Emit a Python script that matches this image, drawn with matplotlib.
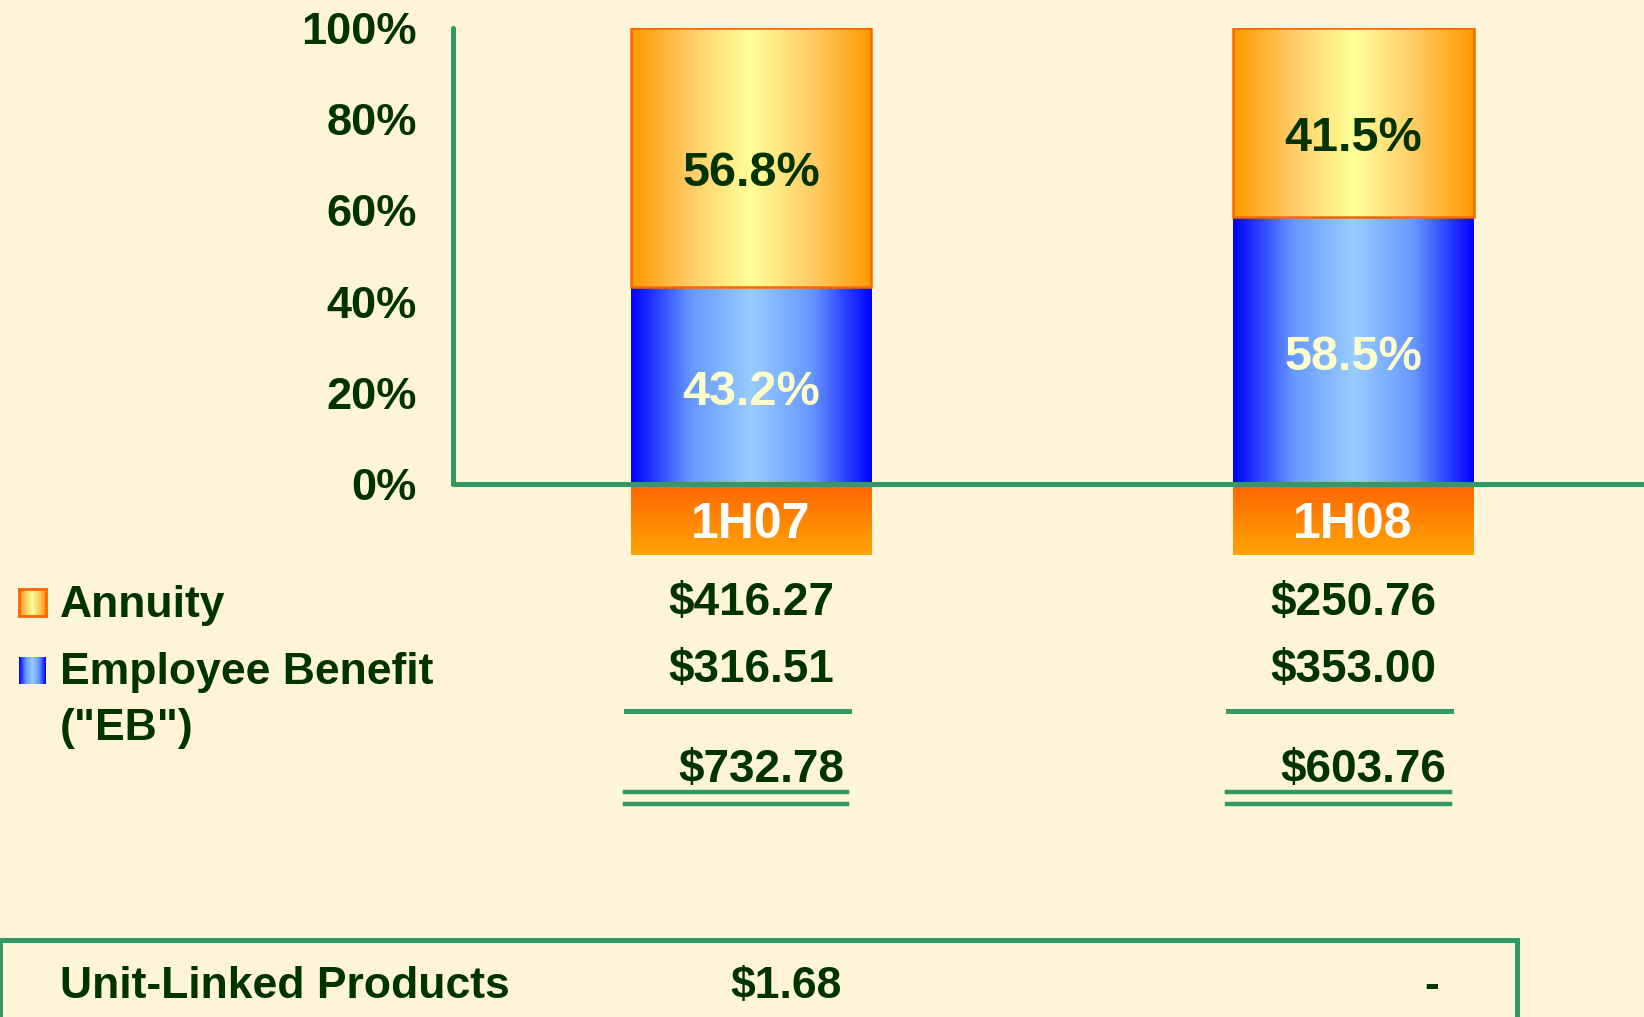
import numpy as np
import matplotlib

matplotlib.use("Agg")
import matplotlib.pyplot as plt
import matplotlib.transforms as mtransforms
from matplotlib.colors import LinearSegmentedColormap
from matplotlib.patches import Rectangle

# ---------------------------------------------------------------------
# data
# ---------------------------------------------------------------------

periods = ["1H07", "1H08"]
eb_share = [43.2, 58.5]
annuity_share = [56.8, 41.5]

annuity_amt = ["$416.27", "$250.76"]
eb_amt = ["$316.51", "$353.00"]
total_amt = ["$732.78", "$603.76"]
unit_linked = ["$1.68", "-"]

y_ticks = [0, 20, 40, 60, 80, 100]
y_tick_labels = ["0%", "20%", "40%", "60%", "80%", "100%"]

# ---------------------------------------------------------------------
# style
# ---------------------------------------------------------------------

BG = "#FEF5D9"
TEXT = "#003300"
LIGHT = "#FFFFCC"
GREEN = "#339966"
ANNUITY_COLS = ["#FF9900", "#FFCC66", "#FFFF99", "#FFCC66", "#FF9900"]
EB_COLS = ["#0000FF", "#6699FF", "#99CCFF", "#6699FF", "#0000FF"]
BOX_COLS = ["#FF6600", "#FFA500"]

plt.rcParams["font.family"] = ["Liberation Sans", "DejaVu Sans"]
plt.rcParams["font.weight"] = "bold"


def fill_gradient(ax, patch, colors, vertical=False):
    """paint a gradient image clipped to a bar rectangle"""
    x0, y0 = patch.get_x(), patch.get_y()
    w, h = patch.get_width(), patch.get_height()
    cmap = LinearSegmentedColormap.from_list("grad", colors)
    grad = np.linspace(0, 1, 256)
    img = grad[:, None] if vertical else grad[None, :]
    im = ax.imshow(img, cmap=cmap, extent=(x0, x0 + w, y0, y0 + h),
                   origin="upper", aspect="auto", interpolation="bilinear",
                   zorder=patch.get_zorder() - 0.1)
    im.set_clip_path(patch)
    return im


fig = plt.figure(figsize=(16.44, 10.17), dpi=100, facecolor=BG)
ax = fig.add_axes([0.2755, 0.5241, 0.7245, 0.4484])
ax.set_facecolor(BG)

x = np.arange(len(periods))
width = 0.40

eb_bars = ax.bar(x, eb_share, width, facecolor="none", edgecolor="none", zorder=3)
an_bars = ax.bar(x, annuity_share, width, bottom=eb_share, facecolor="none",
                 edgecolor="#FF6600", linewidth=1.8, zorder=3)
box_bars = ax.bar(x, [15.3] * len(x), width, bottom=-15.6, facecolor="none",
                  edgecolor="none", zorder=3, clip_on=False)

for p in eb_bars:
    fill_gradient(ax, p, EB_COLS)
for p in an_bars:
    fill_gradient(ax, p, ANNUITY_COLS)
for p in box_bars:
    fill_gradient(ax, p, BOX_COLS, vertical=True)

for i in range(len(x)):
    ax.text(x[i], eb_share[i] / 2 - 1.5, f"{eb_share[i]:.1f}%", ha="center",
            va="center", color=LIGHT, fontsize=35, zorder=5)
    ax.text(x[i], eb_share[i] + annuity_share[i] / 2 - 3.5,
            f"{annuity_share[i]:.1f}%", ha="center", va="center",
            color=TEXT, fontsize=35, zorder=5)
    ax.text(x[i], -9.1, periods[i], ha="center", va="center", color="white",
            fontsize=36, zorder=5, clip_on=False)

ax.set_xlim(-0.495, 1.483)
ax.set_ylim(0, 100)
ax.set_yticks(y_ticks)
ax.set_yticklabels(y_tick_labels)
ax.set_xticks([])
ax.tick_params(axis="y", length=0, pad=26, labelsize=32.5, labelcolor=TEXT)

for side in ["top", "right"]:
    ax.spines[side].set_visible(False)
for side in ["left", "bottom"]:
    ax.spines[side].set_color(GREEN)
    ax.spines[side].set_linewidth(3.6)
    ax.spines[side].set_capstyle("round")
    ax.spines[side].set_zorder(6)

# ---------------------------------------------------------------------
# table under the chart
# ---------------------------------------------------------------------

blend = mtransforms.blended_transform_factory(ax.transData, fig.transFigure)

for i in range(len(x)):
    ax.text(x[i], 0.407, annuity_amt[i], transform=blend, ha="center",
            va="center", color=TEXT, fontsize=33)
    ax.text(x[i], 0.341, eb_amt[i], transform=blend, ha="center",
            va="center", color=TEXT, fontsize=33)
    ax.plot([x[i] - 0.208, x[i] + 0.162], [0.301, 0.301], transform=blend,
            color=GREEN, linewidth=3.6, clip_on=False)
    ax.text(x[i] + 0.017, 0.243, total_amt[i], transform=blend, ha="center",
            va="center", color=TEXT, fontsize=33)
    for yy in [0.221, 0.209]:
        ax.plot([x[i] - 0.21, x[i] + 0.16], [yy, yy], transform=blend,
                color=GREEN, linewidth=3.2, clip_on=False)

# legend
for (cols, bottom, edge) in [(ANNUITY_COLS, 0.3943, "#FF6600"),
                             (EB_COLS, 0.3274, "none")]:
    lax = fig.add_axes([0.0116, bottom, 0.0164, 0.0265])
    lax.imshow(np.linspace(0, 1, 64)[None, :],
               cmap=LinearSegmentedColormap.from_list("leg", cols),
               aspect="auto", interpolation="bilinear")
    lax.set_xticks([])
    lax.set_yticks([])
    for s in lax.spines.values():
        s.set_visible(edge != "none")
        s.set_color(edge)
        s.set_linewidth(2)

fig.text(0.0365, 0.405, "Annuity", ha="left", va="center", color=TEXT, fontsize=32)
fig.text(0.0365, 0.339, "Employee Benefit", ha="left", va="center", color=TEXT, fontsize=32)
fig.text(0.0365, 0.284, '("EB")', ha="left", va="center", color=TEXT, fontsize=32)

# unit-linked box at the bottom
fig.add_artist(Rectangle((0.0, -0.05), 0.923, 0.1257, transform=fig.transFigure,
                         facecolor="none", edgecolor=GREEN, linewidth=3.6))
fig.text(0.0365, 0.030, "Unit-Linked Products", ha="left", va="center",
         color=TEXT, fontsize=32)
ax.text(x[0] + 0.058, 0.030, unit_linked[0], transform=blend, ha="center",
        va="center", color=TEXT, fontsize=32)
ax.text(x[1] + 0.13, 0.030, unit_linked[1], transform=blend, ha="center",
        va="center", color=TEXT, fontsize=32)

fig.savefig("out.png", dpi=100, facecolor=BG)
